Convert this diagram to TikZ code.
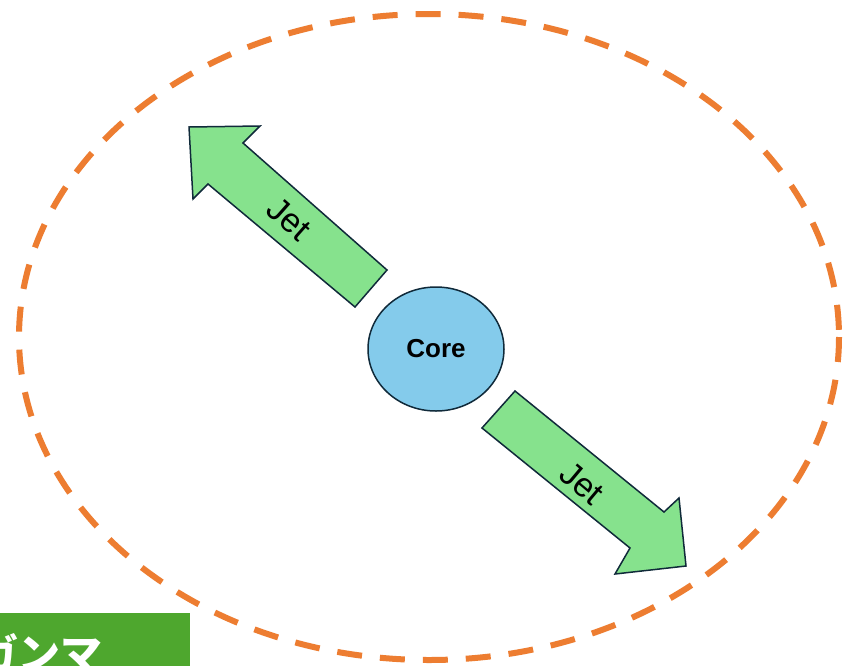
\documentclass[tikz,border=0pt]{standalone}
\usepackage{fontspec}
\usetikzlibrary{shapes.geometric}
\setmainfont{Liberation Sans}
\newfontfamily\jpfont{Noto Sans CJK JP}
\definecolor{orangeline}{HTML}{ED7D31}
\definecolor{jetgreen}{HTML}{86E28D}
\definecolor{darkstroke}{HTML}{102A3A}
\definecolor{corefill}{HTML}{84CBEB}
\definecolor{boxgreen}{HTML}{4EA72E}
\tikzset{
  jetarrow/.style={fill=jetgreen, draw=darkstroke, line width=1.5pt, line join=miter},
  jetlabel/.style={font=\fontsize{34}{34}\selectfont, text=black},
}
\begin{document}
\begin{tikzpicture}[x=1pt,y=-1pt]
\useasboundingbox (0,0) rectangle (843,665);
\clip (0,0) rectangle (843,665);
\fill[white] (0,0) rectangle (843,665);
% outer dashed ellipse
\draw[orangeline, line width=6pt, dash pattern=on 25pt off 18pt] (429,337) ellipse [x radius=410, y radius=323];
% upper jet arrow
\draw[jetarrow] (387,270) -- (243,143) -- (260,126) -- (189,127) -- (193,199) -- (208,184) -- (355,307) -- cycle;
\node[jetlabel, rotate=-41.5] (jet1) at (289,219) {Jet};
% lower jet arrow
\draw[jetarrow] (515,391) -- (664,512) -- (679,498) -- (686,566) -- (615,574) -- (630,548) -- (482,428) -- cycle;
\node[jetlabel, rotate=-40] (jet2) at (582,483) {Jet};
% core
\node[ellipse, draw=darkstroke, fill=corefill, line width=1.5pt, minimum width=136pt, minimum height=124pt, inner sep=0pt] (core) at (436,349) {};
\node[font=\bfseries\fontsize{26}{26}\selectfont] (corelabel) at (core.center) {Core};
% gamma box
\fill[boxgreen] (0,613) rectangle (190,670);
\node[anchor=west, text=white, font=\jpfont\bfseries\fontsize{42}{42}\selectfont, inner sep=0pt] (gamma) at (-24,653) {ガンマ};
\end{tikzpicture}
\end{document}
